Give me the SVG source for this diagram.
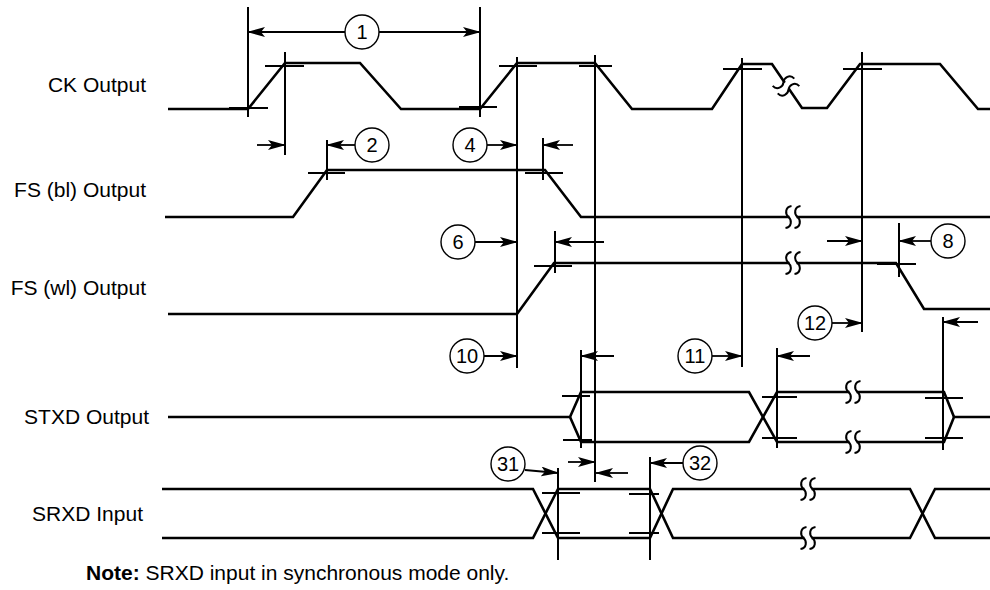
<svg xmlns="http://www.w3.org/2000/svg" xmlns:xlink="http://www.w3.org/1999/xlink" width="990" height="590" viewBox="0 0 990 590">
<style>
.w{fill:none;stroke:#000;stroke-width:2.6;stroke-linejoin:miter}
.v{stroke:#000;stroke-width:2;fill:none}
.t{stroke:#000;stroke-width:1.8;fill:none}
.a{stroke:#000;stroke-width:1.8;fill:none;marker-end:url(#ah)}
.c{fill:#fff;stroke:#000;stroke-width:1.4}
.lbl{font-family:"Liberation Sans",Arial,Helvetica,sans-serif;font-size:21px;fill:#000}
.num{font-family:"Liberation Sans",Arial,Helvetica,sans-serif;font-size:20px;fill:#000;text-anchor:middle}
</style>
<defs>
<marker id="ah" markerWidth="18" markerHeight="10" refX="17" refY="5" orient="auto" markerUnits="userSpaceOnUse"><path d="M0,0 L18,5 L0,10 L4,5 z" fill="#000"/></marker>
<g id="brk">
<rect x="-3.5" y="-3" width="7" height="6" fill="#fff"/>
<path d="M-1.5,-11 C-8,-10 -8,-3 -4.5,0 C-1,3 -1,10 -7.5,11" fill="none" stroke="#000" stroke-width="2"/>
<path d="M7.5,-11 C1,-10 1,-3 4.5,0 C8,3 8,10 1.5,11" fill="none" stroke="#000" stroke-width="2"/>
</g>
</defs>
<rect width="990" height="590" fill="#fff"/>

<g id="ck">
<text class="lbl" x="146" y="92" text-anchor="end">CK Output</text>
<path class="w" d="M168,109 L248,109 L285,63 L360,63 L401,109 L480,109 L517,63 L595,63 L632,109 L712,109 L742,64 L772,64 L802,108 L827,108 L860,64 L940,64 L978,109 L990,109"/>
<use xlink:href="#brk" transform="translate(786,86) rotate(56)"/>
</g>

<g id="fsbl">
<text class="lbl" x="146" y="197" text-anchor="end">FS (bl) Output</text>
<path class="w" d="M165,217 L293,217 L327,170 L545,170 L581,217 L990,217"/>
<use xlink:href="#brk" transform="translate(793,217)"/>
</g>

<g id="fswl">
<text class="lbl" x="146" y="295" text-anchor="end">FS (wl) Output</text>
<path class="w" d="M168,314 L517,314 L554,263 L896,263 L924,309 L990,309"/>
<use xlink:href="#brk" transform="translate(793,263)"/>
</g>

<g id="stxd">
<text class="lbl" x="149" y="424" text-anchor="end">STXD Output</text>
<path class="w" d="M168,417 L570,417 L581,392 L749,392 L777,442 L944,442 L954,417 L990,417"/>
<path class="w" d="M570,417 L581,442 L749,442 L777,392 L944,392 L954,417"/>
<use xlink:href="#brk" transform="translate(853,392)"/>
<use xlink:href="#brk" transform="translate(853,442)"/>
</g>

<g id="srxd">
<text class="lbl" x="143" y="521" text-anchor="end">SRXD Input</text>
<path class="w" d="M162,489 L533,489 L558,538 L650,538 L673,489 L910,489 L935,538 L990,538"/>
<path class="w" d="M162,538 L533,538 L558,489 L650,489 L673,538 L910,538 L935,489 L990,489"/>
<use xlink:href="#brk" transform="translate(808,489)"/>
<use xlink:href="#brk" transform="translate(808,538)"/>
</g>

<g id="connectors">
<!-- reference verticals -->
<path class="v" d="M248,7 V117 M285,52 V155 M480,7 V117 M517,57 V368 M595,55 V482 M742,58 V367 M862,52 V332 M327,140 V180 M543,138 V180 M555,231 V273 M899,223 V277 M943,317 V450 M581,350 V448 M777,348 V448 M558,468 V560 M650,457 V560"/>
<!-- crossing ticks -->
<path class="t" d="M229,108 H268 M265,66 H304 M459,107 H497 M499,66 H537 M579,66 H612 M723,69 H762 M843,69 H882 M308,173 H345 M525,173 H563 M534,266 H572 M877,264 H916 M562,396 H590 M563,440 H592 M762,397 H797 M762,438 H797 M925,398 H963 M925,438 H963 M542,493 H580 M542,533 H580 M629,494 H659 M629,533 H659"/>
<!-- arrows -->
<path class="a" d="M345,32 H248"/>
<path class="a" d="M379,32 H480"/>
<path class="a" d="M257,145 H285"/>
<path class="a" d="M355,145 H327"/>
<path class="a" d="M487,145 H517"/>
<path class="a" d="M573,145 H543"/>
<path class="a" d="M475,242 H517"/>
<path class="a" d="M604,242 H555"/>
<path class="a" d="M827,241 H862"/>
<path class="a" d="M931,241 H899"/>
<path class="a" d="M832,323 H862"/>
<path class="a" d="M978,322 H943"/>
<path class="a" d="M484,356 H517"/>
<path class="a" d="M614,356 H581"/>
<path class="a" d="M712,356 H742"/>
<path class="a" d="M810,356 H777"/>
<path class="a" d="M525,470 L558,473"/>
<path class="a" d="M568,462 H595"/>
<path class="a" d="M628,473 H596"/>
<path class="a" d="M683,463 H650"/>
</g>

<g id="m1"><circle class="c" cx="362" cy="32" r="17"/><text class="num" x="362" y="39">1</text></g>
<g id="m2"><circle class="c" cx="372" cy="145" r="17"/><text class="num" x="372" y="152">2</text></g>
<g id="m4"><circle class="c" cx="470" cy="145" r="17"/><text class="num" x="470" y="152">4</text></g>
<g id="m6"><circle class="c" cx="458" cy="242" r="17"/><text class="num" x="458" y="249">6</text></g>
<g id="m8"><circle class="c" cx="948" cy="241" r="17"/><text class="num" x="948" y="248">8</text></g>
<g id="m10"><circle class="c" cx="467" cy="356" r="17"/><text class="num" x="467" y="363">10</text></g>
<g id="m11"><circle class="c" cx="695" cy="356" r="17"/><text class="num" x="695" y="363">11</text></g>
<g id="m12"><circle class="c" cx="815" cy="323" r="17"/><text class="num" x="815" y="330">12</text></g>
<g id="m31"><circle class="c" cx="508" cy="464" r="17"/><text class="num" x="508" y="471">31</text></g>
<g id="m32"><circle class="c" cx="700" cy="463" r="17"/><text class="num" x="700" y="470">32</text></g>

<g id="note">
<text class="lbl" x="86" y="580"><tspan font-weight="bold">Note:</tspan> SRXD input in synchronous mode only.</text>
</g>
</svg>
